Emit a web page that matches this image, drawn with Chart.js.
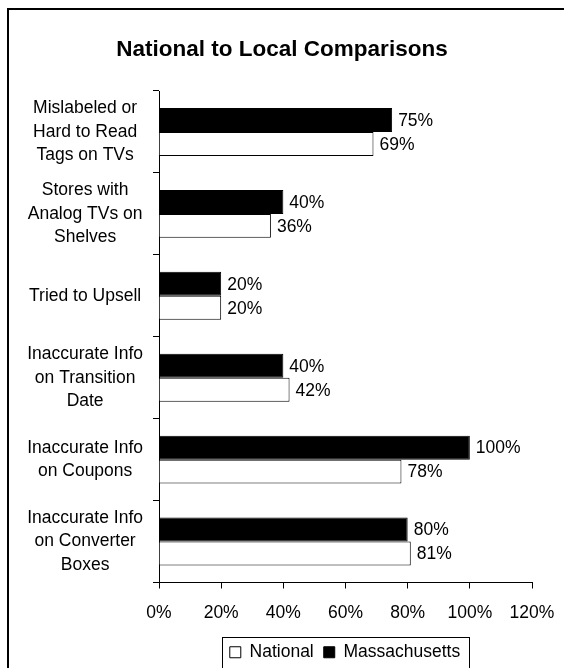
<!DOCTYPE html>
<html>
<head>
<meta charset="utf-8">
<script src="https://cdn.jsdelivr.net/npm/chart.js@4"></script>
<style>
  body { margin: 0; background: #fff; overflow: hidden; }
  #frame { position: absolute; left: 7px; top: 8px; width: 620px; height: 720px; border: 2px solid #000; }
  #wrap { position: absolute; left: 0; top: 0; width: 564px; height: 668px; }
</style>
</head>
<body>
<div id="frame"></div>
<div id="wrap"><canvas id="myChart" width="564" height="668"></canvas></div>
<script>
'use strict';

// categories (multi-line tick labels)
const categories = [
    ["Mislabeled or", "Hard to Read", "Tags on TVs"],
    ["Stores with", "Analog TVs on", "Shelves"],
    ["Tried to Upsell"],
    ["Inaccurate Info", "on Transition", "Date"],
    ["Inaccurate Info", "on Coupons"],
    ["Inaccurate Info", "on Converter", "Boxes"]
];
const massachusetts = [75, 40, 20, 40, 100, 80];
const national = [69, 36, 20, 42, 78, 81];
const xTicks = [0, 20, 40, 60, 80, 100, 120];

const FONT = "'Liberation Sans', Arial, sans-serif";
const FSIZE = 17.5;

// value labels to the right of each bar
const barLabels = {
    id: 'barLabels',
    afterDatasetsDraw(chart) {
        const ctx = chart.ctx;
        ctx.save();
        ctx.font = FSIZE + "px " + FONT;
        ctx.fillStyle = "#000";
        ctx.textAlign = "left";
        ctx.textBaseline = "middle";
        chart.data.datasets.forEach((ds, i) => {
            chart.getDatasetMeta(i).data.forEach((bar, j) => {
                ctx.fillText(ds.data[j] + "%", bar.x + 6, bar.y + 1);
            });
        });
        ctx.restore();
    }
};

// move title to page centre and legend right of centre, like the original
const nudge = {
    id: 'nudge',
    afterLayout(chart) {
        const t = chart.titleBlock;
        const tdx = chart.width / 2 - (t.left + t.right) / 2;
        t.left += tdx; t.right += tdx;

        const lg = chart.legend;
        const dx = 345 - (lg.left + lg.right) / 2;
        lg.left += dx; lg.right += dx;
        lg.top += 3; lg.bottom += 3;
    }
};

// box around the legend items
const legendBox = {
    id: 'legendBox',
    afterDraw(chart) {
        const boxes = chart.legend.legendHitBoxes;
        if (!boxes || !boxes.length) return;
        let l = Infinity, r = -Infinity, t = Infinity, b = -Infinity;
        boxes.forEach(h => {
            l = Math.min(l, h.left);
            r = Math.max(r, h.left + h.width);
            t = Math.min(t, h.top);
            b = Math.max(b, h.top + h.height);
        });
        const ctx = chart.ctx;
        ctx.save();
        ctx.strokeStyle = "#000";
        ctx.lineWidth = 1;
        ctx.strokeRect(Math.round(l - 8) + 0.5, Math.round(t - 7) + 0.5, Math.round(r - l + 17), Math.round(b - t + 13));
        ctx.restore();
    }
};

let chart = new Chart("myChart", {
    type: "bar",
    data: {
        labels: categories,
        datasets: [{
            label: "Massachusetts",
            data: massachusetts,
            backgroundColor: "#000",
            borderColor: "#000",
            borderWidth: 1
        }, {
            label: "National",
            data: national,
            backgroundColor: "#fff",
            borderColor: "#000",
            borderWidth: 1
        }]
    },
    options: {
        indexAxis: "y",
        responsive: false,
        animation: false,
        categoryPercentage: 0.585,
        barPercentage: 1.0,
        layout: { padding: { left: 18, right: 32, top: 28, bottom: 0 } },
        scales: {
            x: {
                min: 0,
                max: 120,
                afterBuildTicks(scale) {
                    scale.ticks = xTicks.map(v => ({ value: v }));
                },
                afterFit(scale) {
                    scale.height -= 7;
                    scale.paddingRight = 0;
                },
                border: { color: "#000", width: 1 },
                grid: { drawOnChartArea: false, drawTicks: true, tickLength: 6, color: "#000" },
                ticks: {
                    color: "#000",
                    font: { family: FONT, size: FSIZE },
                    padding: 14,
                    maxRotation: 0,
                    callback: v => v + "%"
                }
            },
            y: {
                border: { color: "#000", width: 1 },
                grid: { drawOnChartArea: false, drawTicks: true, tickLength: 6, color: "#000" },
                afterFit(scale) { scale.width = 141; },
                ticks: {
                    color: "#000",
                    crossAlign: "center",
                    padding: 10,
                    font: { family: FONT, size: FSIZE, lineHeight: 1.34 }
                }
            }
        },
        plugins: {
            title: {
                display: true,
                text: "National to Local Comparisons",
                color: "#000",
                font: { family: FONT, size: 22.5, weight: "bold" },
                padding: { top: 8, bottom: 28 }
            },
            legend: {
                position: "bottom",
                reverse: true,
                labels: {
                    color: "#000",
                    font: { family: FONT, size: FSIZE },
                    boxWidth: 11,
                    boxHeight: 11,
                    padding: 10
                }
            },
            tooltip: { enabled: false }
        }
    },
    plugins: [nudge, barLabels, legendBox]
});
</script>
</body>
</html>
